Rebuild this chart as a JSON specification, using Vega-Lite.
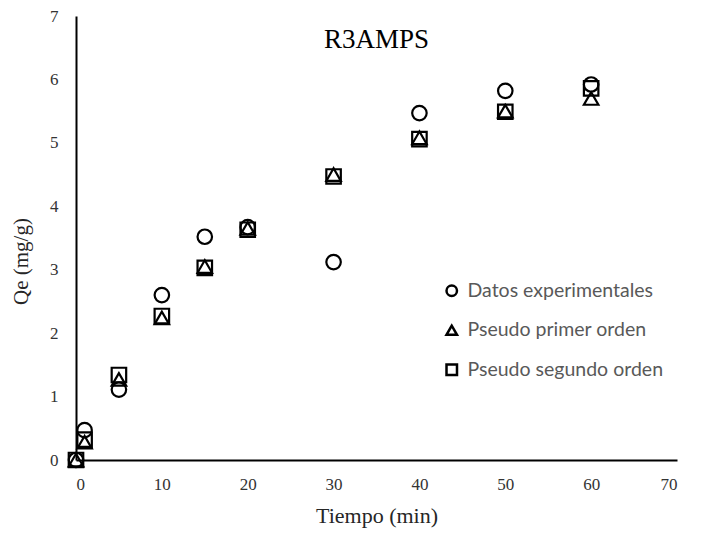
{
  "$schema": "https://vega.github.io/schema/vega-lite/v6.json",
  "width": 601,
  "height": 444,
  "autosize": {"type": "none"},
  "padding": {"left": 76, "top": 16, "right": 28, "bottom": 74},
  "background": "white",
  "config": {"view": {"stroke": null}},
  "title": {
    "text": "R3AMPS",
    "font": "Liberation Serif",
    "fontSize": 27,
    "fontWeight": "normal",
    "color": "#000000",
    "anchor": "middle",
    "orient": "top",
    "offset": -47,
    "baseline": "top"
  },
  "data": {
    "values": [
      {"t": 0, "serie": "Datos experimentales", "qe": 0},
      {"t": 1, "serie": "Datos experimentales", "qe": 0.47},
      {"t": 5, "serie": "Datos experimentales", "qe": 1.11},
      {"t": 10, "serie": "Datos experimentales", "qe": 2.6},
      {"t": 15, "serie": "Datos experimentales", "qe": 3.52},
      {"t": 20, "serie": "Datos experimentales", "qe": 3.67},
      {"t": 30, "serie": "Datos experimentales", "qe": 3.12},
      {"t": 40, "serie": "Datos experimentales", "qe": 5.47},
      {"t": 50, "serie": "Datos experimentales", "qe": 5.82},
      {"t": 60, "serie": "Datos experimentales", "qe": 5.92},
      {"t": 0, "serie": "Pseudo primer orden", "qe": 0},
      {"t": 1, "serie": "Pseudo primer orden", "qe": 0.28},
      {"t": 5, "serie": "Pseudo primer orden", "qe": 1.27},
      {"t": 10, "serie": "Pseudo primer orden", "qe": 2.24},
      {"t": 15, "serie": "Pseudo primer orden", "qe": 3.05},
      {"t": 20, "serie": "Pseudo primer orden", "qe": 3.65},
      {"t": 30, "serie": "Pseudo primer orden", "qe": 4.5},
      {"t": 40, "serie": "Pseudo primer orden", "qe": 5.08},
      {"t": 50, "serie": "Pseudo primer orden", "qe": 5.5},
      {"t": 60, "serie": "Pseudo primer orden", "qe": 5.7},
      {"t": 0, "serie": "Pseudo segundo orden", "qe": 0},
      {"t": 1, "serie": "Pseudo segundo orden", "qe": 0.32},
      {"t": 5, "serie": "Pseudo segundo orden", "qe": 1.34},
      {"t": 10, "serie": "Pseudo segundo orden", "qe": 2.27},
      {"t": 15, "serie": "Pseudo segundo orden", "qe": 3.03},
      {"t": 20, "serie": "Pseudo segundo orden", "qe": 3.63},
      {"t": 30, "serie": "Pseudo segundo orden", "qe": 4.47},
      {"t": 40, "serie": "Pseudo segundo orden", "qe": 5.06},
      {"t": 50, "serie": "Pseudo segundo orden", "qe": 5.49},
      {"t": 60, "serie": "Pseudo segundo orden", "qe": 5.86}
    ]
  },
  "mark": {"type": "point", "filled": false, "color": "black", "strokeWidth": 2.2, "size": 210, "opacity": 1},
  "encoding": {
    "x": {
      "field": "t",
      "type": "quantitative",
      "scale": {"domain": [0, 70], "nice": false},
      "axis": {
        "title": "Tiempo (min)",
        "values": [0, 10, 20, 30, 40, 50, 60, 70],
        "grid": false,
        "ticks": false,
        "domainColor": "black",
        "domainWidth": 2,
        "labelFont": "Liberation Serif",
        "labelFontSize": 17,
        "labelColor": "#333333",
        "labelPadding": 16,
        "titleFont": "Liberation Serif",
        "titleFontSize": 22,
        "titleFontWeight": "normal",
        "titleColor": "#262626",
        "titlePadding": 13
      }
    },
    "y": {
      "field": "qe",
      "type": "quantitative",
      "scale": {"domain": [0, 7], "nice": false},
      "axis": {
        "title": "Qe (mg/g)",
        "values": [0, 1, 2, 3, 4, 5, 6, 7],
        "grid": false,
        "ticks": false,
        "domainColor": "black",
        "domainWidth": 2,
        "labelFont": "Liberation Serif",
        "labelFontSize": 17,
        "labelColor": "#333333",
        "labelPadding": 18,
        "titleFont": "Liberation Serif",
        "titleFontSize": 21,
        "titleFontWeight": "normal",
        "titleColor": "#262626",
        "titlePadding": 18,
        "titleY": 245
      }
    },
    "shape": {
      "field": "serie",
      "type": "nominal",
      "scale": {
        "domain": ["Datos experimentales", "Pseudo primer orden", "Pseudo segundo orden"],
        "range": ["circle", "triangle-up", "square"]
      },
      "legend": {
        "title": null,
        "orient": "none",
        "legendX": 366,
        "legendY": 265,
        "padding": 0,
        "symbolSize": 110,
        "symbolStrokeWidth": 2.5,
        "symbolStrokeColor": "black",
        "symbolFillColor": "transparent",
        "labelFont": "Lato",
        "labelFontSize": 19.5,
        "labelColor": "#595959",
        "labelOffset": 6,
        "labelLimit": 0,
        "rowPadding": 18.5
      }
    }
  }
}
